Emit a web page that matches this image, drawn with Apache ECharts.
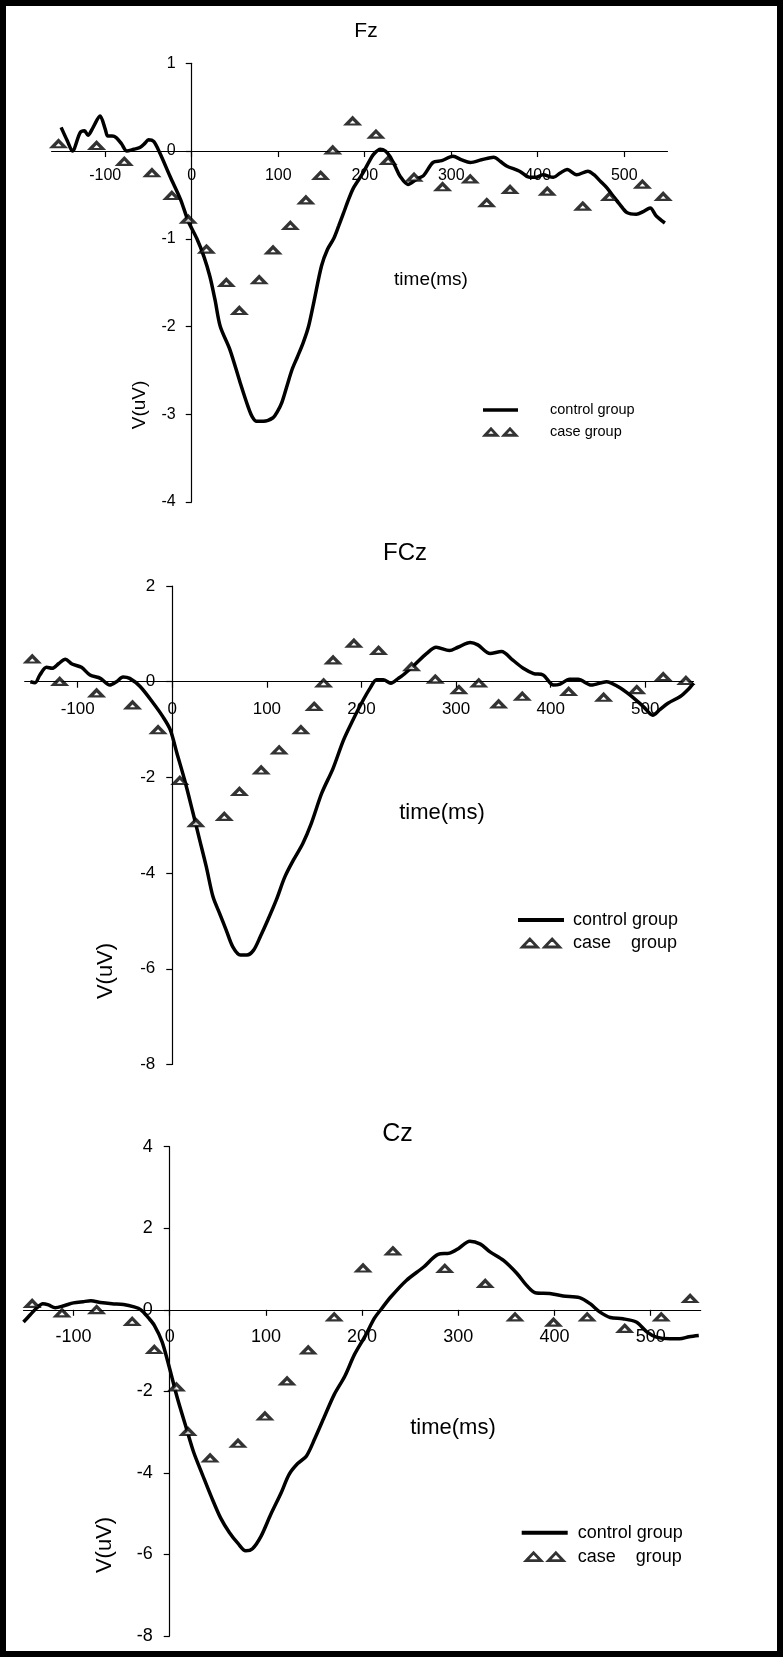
<!DOCTYPE html>
<html><head><meta charset="utf-8">
<script src="https://cdn.jsdelivr.net/npm/echarts@6/dist/echarts.min.js"></script>
<style>html,body{margin:0;padding:0;background:#fff}#c{width:783px;height:1657px}</style>
</head><body><div id="c"></div>
<script>
// ---- tick labels ----
const xTicks = [-100, 0, 100, 200, 300, 400, 500];

// ---- Fz ----
const fzControl = [[-151,0.27],[-144,0.12],[-138,0.0],[-129,0.21],[-124,0.23],[-120,0.18],[-114,0.27],[-106,0.40],[-100,0.25],[-97,0.17],[-92,0.17],[-87,0.15],[-81,0.08],[-75,0.0],[-67,0.02],[-60,0.04],[-54,0.09],[-50,0.13],[-44,0.11],[-37,-0.02],[-25,-0.29],[-13,-0.55],[-4,-0.80],[6,-1.0],[14,-1.2],[21,-1.43],[27,-1.7],[33,-2.0],[44,-2.26],[56,-2.64],[65,-2.91],[70,-3.03],[75,-3.08],[83,-3.08],[94,-3.04],[99,-2.97],[104,-2.87],[110,-2.68],[116,-2.49],[122,-2.35],[129,-2.18],[135,-2.0],[141,-1.73],[150,-1.31],[157,-1.12],[164,-1.0],[170,-0.85],[175,-0.72],[181,-0.56],[187,-0.42],[198,-0.25],[205,-0.12],[210,-0.04],[218,0.02],[224,0.0],[229,-0.06],[235,-0.17],[241,-0.29],[250,-0.38],[260,-0.32],[268,-0.28],[279,-0.13],[289,-0.11],[302,-0.06],[312,-0.1],[322,-0.13],[335,-0.1],[349,-0.07],[357,-0.12],[364,-0.17],[379,-0.23],[391,-0.30],[398,-0.30],[406,-0.27],[418,-0.30],[426,-0.25],[434,-0.21],[445,-0.27],[458,-0.23],[465,-0.27],[472,-0.34],[480,-0.42],[487,-0.51],[495,-0.61],[503,-0.70],[514,-0.72],[522,-0.69],[530,-0.65],[537,-0.74],[547,-0.82]];
const fzCase = [[-154,0.08],[-110,0.06],[-78,-0.12],[-46,-0.25],[-23,-0.51],[-4,-0.78],[17,-1.12],[40,-1.50],[55,-1.82],[78,-1.47],[94,-1.13],[114,-0.85],[132,-0.56],[149,-0.28],[163,0.01],[186,0.34],[213,0.19],[227,-0.11],[257,-0.30],[290,-0.41],[322,-0.32],[341,-0.59],[368,-0.44],[411,-0.46],[452,-0.63],[483,-0.52],[521,-0.38],[545,-0.52]];

// ---- FCz ----
const fczControl = [[-150,0.0],[-145,-0.02],[-140,0.14],[-133,0.30],[-127,0.28],[-120,0.38],[-113,0.47],[-106,0.37],[-96,0.30],[-87,0.14],[-76,0.07],[-66,-0.07],[-59,0.0],[-52,0.10],[-45,0.07],[-34,-0.10],[-20,-0.45],[-10,-0.73],[-2,-1.01],[5,-1.50],[13,-2.05],[22,-2.75],[29,-3.31],[36,-3.87],[43,-4.49],[50,-4.84],[57,-5.19],[64,-5.54],[72,-5.71],[79,-5.71],[86,-5.61],[93,-5.33],[101,-4.98],[110,-4.56],[119,-4.08],[128,-3.73],[138,-3.38],[147,-2.96],[158,-2.33],[170,-1.81],[181,-1.22],[191,-0.80],[200,-0.45],[209,-0.14],[216,0.04],[223,0.04],[231,-0.03],[239,0.07],[244,0.14],[256,0.35],[269,0.59],[279,0.72],[293,0.65],[302,0.72],[315,0.82],[323,0.77],[336,0.59],[348,0.63],[360,0.45],[371,0.28],[382,0.17],[392,0.14],[403,-0.07],[410,-0.05],[420,0.05],[429,0.05],[443,-0.07],[459,0.0],[471,-0.10],[484,-0.28],[498,-0.52],[508,-0.70],[515,-0.59],[524,-0.45],[537,-0.31],[545,-0.17],[551,-0.03]];
const fczCase = [[-148,0.47],[-119,0.0],[-80,-0.24],[-42,-0.49],[-15,-1.01],[8,-2.07],[25,-2.95],[55,-2.82],[71,-2.30],[94,-1.85],[113,-1.43],[136,-1.01],[150,-0.52],[160,-0.03],[170,0.45],[192,0.80],[218,0.65],[253,0.31],[278,0.05],[303,-0.17],[324,-0.03],[345,-0.47],[370,-0.31],[419,-0.21],[456,-0.33],[491,-0.17],[519,0.10],[543,0.02]];

// ---- Cz ----
const czControl = [[-152,-0.3],[-145,-0.12],[-138,0.05],[-132,0.15],[-126,0.12],[-119,0.05],[-110,0.1],[-100,0.17],[-90,0.2],[-82,0.22],[-72,0.18],[-60,0.15],[-48,0.13],[-37,0.07],[-30,0.0],[-22,-0.2],[-16,-0.38],[-8,-0.78],[-1,-1.36],[8,-2.17],[17,-2.88],[25,-3.5],[34,-4.04],[43,-4.57],[53,-5.11],[62,-5.46],[71,-5.73],[79,-5.91],[86,-5.86],[95,-5.55],[105,-5.02],[116,-4.48],[124,-4.04],[133,-3.77],[142,-3.59],[151,-3.15],[161,-2.61],[171,-2.08],[182,-1.63],[192,-1.10],[203,-0.65],[213,-0.2],[220,0.02],[230,0.32],[246,0.72],[264,1.05],[279,1.36],[291,1.39],[300,1.5],[312,1.68],[323,1.61],[333,1.42],[347,1.21],[361,0.89],[371,0.6],[380,0.42],[395,0.4],[409,0.34],[426,0.3],[437,0.15],[447,-0.05],[458,-0.19],[471,-0.22],[485,-0.3],[496,-0.54],[506,-0.67],[520,-0.71],[530,-0.71],[540,-0.66],[550,-0.63]];
const czCase = [[-143,0.15],[-112,-0.08],[-76,0.0],[-39,-0.29],[-16,-0.98],[7,-1.90],[19,-2.99],[42,-3.64],[71,-3.28],[99,-2.61],[122,-1.75],[144,-0.99],[171,-0.18],[201,1.02],[232,1.44],[286,1.01],[328,0.64],[359,-0.18],[399,-0.31],[434,-0.18],[473,-0.46],[511,-0.18],[541,0.27]];

const FONT = "'Liberation Sans', Arial, Helvetica, sans-serif";
const BLACK = '#000';
const W = 783;

// panel layout: grid box in px + axis ranges
const panels = [
  { left: 51.6, right: 115.5, top: 63.3, height: 438.7, xmin: -162, xmax: 550, ymin: -4, ymax: 1, yint: 1, xfs: 16, yfs: 16, xm: 17, ym: 16 },
  { left: 24.7, right: 89.5, top: 586, height: 478.5, xmin: -156, xmax: 551, ymin: -8, ymax: 2, yint: 2, xfs: 17, yfs: 17, xm: 19, ym: 17 },
  { left: 23.5, right: 82.3, top: 1146.7, height: 489.3, xmin: -152, xmax: 552, ymin: -8, ymax: 4, yint: 2, xfs: 18, yfs: 18, xm: 18, ym: 17 }
];

function xAx(g) {
  const p = panels[g];
  // place the x axis on y = 0 (offset from the grid bottom, negative = inward)
  const off = -(0 - p.ymin) / (p.ymax - p.ymin) * p.height;
  return {
    type: 'value', gridIndex: g, min: p.xmin, max: p.xmax, position: 'bottom', offset: off,
    axisLine: { show: true, onZero: false, lineStyle: { color: BLACK, width: 1.2 } },
    axisTick: { show: true, length: 6, customValues: xTicks, lineStyle: { color: BLACK, width: 1.2 } },
    axisLabel: { customValues: xTicks, fontSize: p.xfs, color: BLACK, fontFamily: FONT, margin: p.xm },
    splitLine: { show: false }
  };
}
function yAx(g) {
  const p = panels[g];
  const gw = W - p.left - p.right;
  const off = -(0 - p.xmin) / (p.xmax - p.xmin) * gw;
  return {
    type: 'value', gridIndex: g, min: p.ymin, max: p.ymax, interval: p.yint, position: 'left', offset: off,
    axisLine: { show: true, onZero: false, lineStyle: { color: BLACK, width: 1.2 } },
    axisTick: { show: true, length: 6, lineStyle: { color: BLACK, width: 1.2 } },
    axisLabel: { fontSize: p.yfs, color: BLACK, fontFamily: FONT, margin: p.ym },
    splitLine: { show: false }
  };
}
function lineSeries(name, g, data) {
  return { name: name, type: 'line', xAxisIndex: g, yAxisIndex: g, data: data,
    showSymbol: false, symbol: 'none', smooth: 0.3, z: 2,
    lineStyle: { color: BLACK, width: 3.5 }, itemStyle: { color: BLACK } };
}
function caseSeries(name, g, data) {
  return { name: name, type: 'scatter', xAxisIndex: g, yAxisIndex: g, data: data,
    symbol: 'triangle', symbolSize: [12.5, 6.5], z: 3,
    itemStyle: { color: '#fff', borderColor: BLACK, borderWidth: 3 } };
}
const legendText = {
  'Fz control': 'control group', 'Fz case': 'case group',
  'FCz control': 'control group', 'FCz case': 'case    group',
  'Cz control': 'control group', 'Cz case': 'case    group'
};
function legend(prefix, left, top, iw, ih, fs, lh, gap, lineIcon, triIcon, padL) {
  return {
    orient: 'vertical', left: left, top: top, padding: 0, itemGap: gap,
    itemWidth: iw, itemHeight: ih, selectedMode: false, symbolKeepAspect: true,
    formatter: function (n) { return legendText[n]; },
    textStyle: { fontSize: fs, lineHeight: lh, color: BLACK, fontFamily: FONT, padding: [0, 0, 0, padL] },
    data: [
      { name: prefix + ' control', icon: lineIcon, itemStyle: { color: BLACK, borderWidth: 0 } },
      { name: prefix + ' case', icon: triIcon, itemStyle: { color: '#fff', borderColor: BLACK, borderWidth: 2.8 } }
    ]
  };
}
function txt(s, x, y, fs, rot) {
  return { type: 'text', x: x, y: y, rotation: rot || 0, silent: true,
    style: { text: s, fontSize: fs, fontFamily: FONT, fill: BLACK, align: 'center', verticalAlign: 'middle' } };
}

const chart = echarts.init(document.getElementById('c'), null, { renderer: 'canvas' });
chart.setOption({
  animation: false,
  backgroundColor: '#fff',
  grid: panels.map(function (p) { return { left: p.left, right: p.right, top: p.top, height: p.height, containLabel: false }; }),
  xAxis: [xAx(0), xAx(1), xAx(2)],
  yAxis: [yAx(0), yAx(1), yAx(2)],
  legend: [
    legend('Fz', 483, 402, 35, 6.5, 14.5, 16, 6, 'path://M0,0 H35 V3.5 H0 Z',
      'path://M0,6.5 L6,0 L12,6.5 Z M19,6.5 L25,0 L31,6.5 Z', 27),
    legend('FCz', 518, 910, 46, 8, 18, 20, 3, 'path://M0,0 H46 V4 H0 Z',
      'path://M0,8 L7.5,0 L15,8 Z M22.3,8 L29.8,0 L37.3,8 Z', 4),
    legend('Cz', 521.7, 1522.7, 46, 8, 18, 20, 4, 'path://M0,0 H46 V4 H0 Z',
      'path://M0,8 L7.5,0 L15,8 Z M22.3,8 L29.8,0 L37.3,8 Z', 5)
  ],
  series: [
    lineSeries('Fz control', 0, fzControl), caseSeries('Fz case', 0, fzCase),
    lineSeries('FCz control', 1, fczControl), caseSeries('FCz case', 1, fczCase),
    lineSeries('Cz control', 2, czControl), caseSeries('Cz case', 2, czCase)
  ],
  graphic: [
    { type: 'rect', silent: true, z: 100, shape: { x: 3, y: 3, width: 777, height: 1651 },
      style: { fill: 'none', stroke: BLACK, lineWidth: 6 } },
    txt('Fz', 366, 31, 21),
    txt('FCz', 405, 553, 24),
    txt('Cz', 397.5, 1134, 25),
    txt('time(ms)', 431, 280, 19),
    txt('time(ms)', 442, 813, 22),
    txt('time(ms)', 453, 1428, 22),
    txt('V(uV)', 140, 405, 19, Math.PI / 2),
    txt('V(uV)', 106, 971, 22, Math.PI / 2),
    txt('V(uV)', 105, 1545, 22, Math.PI / 2)
  ]
});
</script></body></html>
